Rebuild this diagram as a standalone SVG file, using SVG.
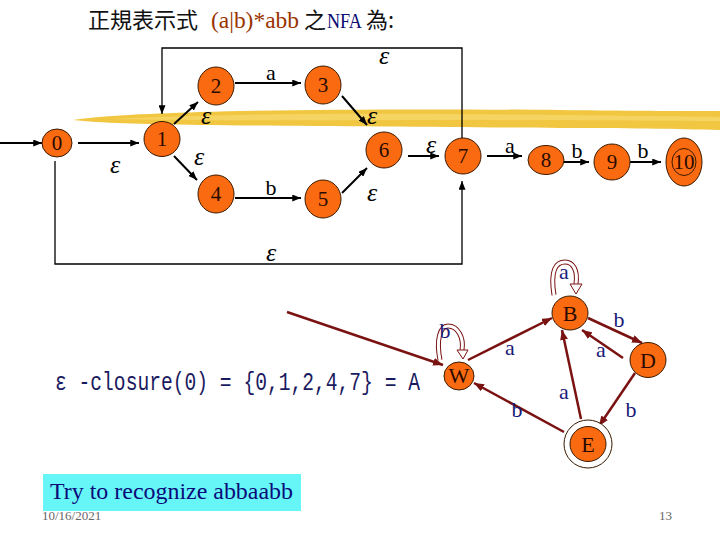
<svg xmlns="http://www.w3.org/2000/svg" width="720" height="540" viewBox="0 0 720 540">
<style>
.st{fill:#fa6a10;stroke:#3a1a00;stroke-width:1}
.nl{font-family:"Liberation Serif",serif;font-size:21px;fill:#2a0a00;text-anchor:middle}
.bl{font-family:"Liberation Serif",serif;font-size:22px;fill:#2a0a00;text-anchor:middle}
.e{stroke:#000;stroke-width:2;fill:none}
.d{stroke:#7a1212;stroke-width:2.5;fill:none}
.lb{font-family:"Liberation Serif",serif;font-size:22px;fill:#000;text-anchor:middle}
.eps{font-family:"Liberation Serif",serif;font-size:26px;font-style:italic;fill:#000;text-anchor:middle}
.nv{font-family:"Liberation Serif",serif;font-size:22px;fill:#1a1a78;text-anchor:middle}
.cjk{font-family:"Noto Sans CJK TC","Noto Sans CJK SC",sans-serif;font-size:22px;fill:#111}
</style>
<defs>
<marker id="ah" viewBox="0 0 10 8" refX="10" refY="4" markerWidth="9" markerHeight="7" markerUnits="userSpaceOnUse" orient="auto"><path d="M0,0 L10,4 L0,8 z" fill="#000"/></marker>
<marker id="ahr" viewBox="0 0 10 8" refX="10" refY="4" markerWidth="10" markerHeight="8" markerUnits="userSpaceOnUse" orient="auto"><path d="M0,0 L10,4 L0,8 z" fill="#7a1212"/></marker>
</defs>
<rect width="720" height="540" fill="#fff"/>

<!-- title -->
<g id="title">
<text class="cjk" x="88" y="28">正規表示式</text>
<text x="211" y="28" font-family="Liberation Serif, serif" font-size="23" fill="#993300" textLength="88" lengthAdjust="spacingAndGlyphs">(a|b)*abb</text>
<text class="cjk" x="304" y="28">之</text>
<text x="327" y="28" font-family="Liberation Serif, serif" font-size="22" fill="#0a0a70" textLength="35" lengthAdjust="spacingAndGlyphs">NFA</text>
<text class="cjk" x="366" y="28">為:</text>
</g>

<!-- brush stroke -->
<g id="brush">
<path d="M73,120 C100,116 140,114 200,112 C300,109 450,109 560,110 C640,111 690,111 720,111 L720,130 C680,129 620,128 560,128 C450,127 300,126 200,125 C140,124 100,123 73,120 z" fill="#f0c232" opacity="0.92"/>
<path d="M110,119 C200,115 320,113 450,114 C560,115 650,116 720,117 L720,121 C650,121 560,120 450,120 C320,120 200,121 110,119 z" fill="#f8da70" opacity="0.7"/>
</g>

<!-- NFA connectors -->
<g id="nfa-edges">
<path class="e" d="M0,143 L42,143" marker-end="url(#ah)"/>
<path class="e" d="M78,143 L139,143" marker-end="url(#ah)"/>
<path class="e" d="M174,124 L198,102" marker-end="url(#ah)"/>
<path class="e" d="M174,156 L197,180" marker-end="url(#ah)"/>
<path class="e" d="M235,83 L301,83" marker-end="url(#ah)"/>
<path class="e" d="M235,198 L301,198" marker-end="url(#ah)"/>
<path class="e" d="M342,96 L367,125" marker-end="url(#ah)"/>
<path class="e" d="M342,193 L367,168" marker-end="url(#ah)"/>
<path class="e" d="M408,156 L439,156" marker-end="url(#ah)"/>
<path class="e" d="M487,156 L522,156" marker-end="url(#ah)"/>
<path class="e" d="M564,162 L589,162" marker-end="url(#ah)"/>
<path class="e" d="M630,162 L661,162" marker-end="url(#ah)"/>
<path d="M462,138 L462,48 L162,48 L162,114" fill="none" stroke="#000" stroke-width="1.3" marker-end="url(#ah)"/>
<path d="M55,161 L55,264 L462,264 L462,181" fill="none" stroke="#000" stroke-width="1.3" marker-end="url(#ah)"/>
<text class="eps" x="384" y="64">ε</text>
<text class="eps" x="115" y="173">ε</text>
<text class="eps" x="206" y="124">ε</text>
<text class="eps" x="199" y="165">ε</text>
<text class="lb" x="271" y="80">a</text>
<text class="lb" x="271" y="195">b</text>
<text class="eps" x="372" y="124">ε</text>
<text class="eps" x="372" y="201">ε</text>
<text class="eps" x="271" y="261">ε</text>
<text class="eps" x="431" y="153" font-size="21">ε</text>
<text class="lb" x="510" y="153">a</text>
<text class="lb" x="577" y="158">b</text>
<text class="lb" x="643" y="158">b</text>
</g>

<!-- NFA nodes -->
<g id="n0"><ellipse class="st" cx="57" cy="143" rx="15" ry="14"/><text class="nl" x="57" y="150">0</text></g>
<g id="n1"><ellipse class="st" cx="162" cy="139" rx="18" ry="17.5"/><text class="nl" x="162" y="146">1</text></g>
<g id="n2"><ellipse class="st" cx="216" cy="86" rx="18" ry="19"/><text class="nl" x="216" y="93">2</text></g>
<g id="n3"><ellipse class="st" cx="323" cy="85" rx="18" ry="19"/><text class="nl" x="323" y="92">3</text></g>
<g id="n4"><ellipse class="st" cx="216" cy="194" rx="18" ry="19"/><text class="nl" x="216" y="201">4</text></g>
<g id="n5"><ellipse class="st" cx="323" cy="199" rx="18" ry="19"/><text class="nl" x="323" y="206">5</text></g>
<g id="n6"><ellipse class="st" cx="384" cy="150" rx="18" ry="18"/><text class="nl" x="384" y="157">6</text></g>
<g id="n7"><ellipse class="st" cx="463" cy="156" rx="18" ry="18"/><text class="nl" x="463" y="163">7</text></g>
<g id="n8"><ellipse class="st" cx="546" cy="160" rx="18" ry="14.5"/><text class="nl" x="546" y="167">8</text></g>
<g id="n9"><ellipse class="st" cx="612" cy="162" rx="18" ry="18"/><text class="nl" x="612" y="169">9</text></g>
<g id="n10"><ellipse class="st" cx="684" cy="162" rx="18" ry="24"/><ellipse cx="684" cy="162" rx="12" ry="13.5" fill="none" stroke="#3a1a00" stroke-width="1"/><text class="nl" x="684" y="169">10</text></g>

<!-- closure text -->
<text transform="translate(55,390) scale(1,1.25)" x="0" y="0" font-family="Liberation Mono, monospace" font-size="20" fill="#1a1a60" textLength="365" lengthAdjust="spacingAndGlyphs">ε -closure(0) = {0,1,2,4,7} = A</text>

<!-- DFA connectors -->
<g id="dfa-edges">
<path class="d" d="M287,312 L443,365" marker-end="url(#ahr)"/>
<path class="d" d="M468,360 L552,318" marker-end="url(#ahr)"/>
<path class="d" d="M588,318 L642,343" marker-end="url(#ahr)"/>
<path class="d" d="M623,358 L582,330" marker-end="url(#ahr)"/>
<path class="d" d="M635,373 L599,426" marker-end="url(#ahr)"/>
<path class="d" d="M581,419 L562,330" marker-end="url(#ahr)"/>
<path class="d" d="M564,432 L474,383" marker-end="url(#ahr)"/>
<path d="M554,295 C550,270 556,262 565,262 C573,262 578,270 576,284" fill="none" stroke="#7a1212" stroke-width="5"/>
<path d="M554,295 C550,270 556,262 565,262 C573,262 578,270 576,284" fill="none" stroke="#fff" stroke-width="3"/>
<path d="M570,284 L582,284 L576,294 z" fill="#fff" stroke="#7a1212" stroke-width="1"/>
<path d="M440,360 C436,340 440,326 448,326 C458,326 464,338 462,350" fill="none" stroke="#7a1212" stroke-width="5"/>
<path d="M440,360 C436,340 440,326 448,326 C458,326 464,338 462,350" fill="none" stroke="#fff" stroke-width="3"/>
<path d="M457,350 L468,350 L463,359 z" fill="#fff" stroke="#7a1212" stroke-width="1"/>
<text class="nv" x="510" y="355">a</text>
<text class="nv" x="619" y="327">b</text>
<text class="nv" x="601" y="357">a</text>
<text class="nv" x="631" y="417">b</text>
<text class="nv" x="564" y="399">a</text>
<text class="nv" x="517" y="417">b</text>
<text class="nv" x="564" y="279">a</text>
<text class="nv" x="445" y="338">b</text>
</g>

<!-- DFA nodes -->
<g id="W"><ellipse class="st" cx="459" cy="376" rx="15" ry="14"/><text class="bl" x="459" y="383" font-size="19">W</text></g>
<g id="B"><ellipse class="st" cx="570" cy="313" rx="18" ry="17"/><text class="bl" x="570" y="321">B</text></g>
<g id="D"><ellipse class="st" cx="648" cy="360" rx="18" ry="17.5"/><text class="bl" x="648" y="368">D</text></g>
<g id="E"><ellipse cx="588" cy="444" rx="24" ry="24" fill="#fff" stroke="#3a1a00" stroke-width="1"/><ellipse class="st" cx="588" cy="444" rx="18" ry="17.5"/><text class="bl" x="588" y="452">E</text></g>

<!-- footer -->
<g id="note"><rect x="43" y="474" width="258" height="37" fill="#66f6f8"/><text x="50" y="499" font-family="Liberation Serif, serif" font-size="24" fill="#0a0a78" textLength="243" lengthAdjust="spacingAndGlyphs">Try to recognize abbaabb</text></g>
<text x="42" y="520" font-family="Liberation Serif, serif" font-size="13" fill="#666">10/16/2021</text>
<text x="659" y="520" font-family="Liberation Serif, serif" font-size="13" fill="#666">13</text>
</svg>
